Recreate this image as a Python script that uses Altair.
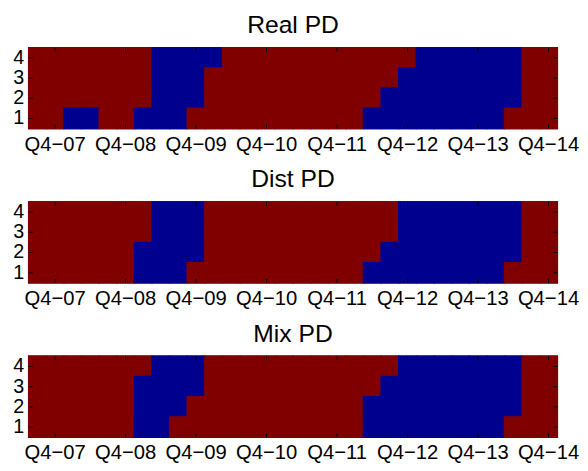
import altair as alt
import pandas as pd

quarters = ["Q3−07", "Q4−07", "Q1−08", "Q2−08", "Q3−08", "Q4−08", "Q1−09", "Q2−09",
            "Q3−09", "Q4−09", "Q1−10", "Q2−10", "Q3−10", "Q4−10", "Q1−11", "Q2−11",
            "Q3−11", "Q4−11", "Q1−12", "Q2−12", "Q3−12", "Q4−12", "Q1−13", "Q2−13",
            "Q3−13", "Q4−13", "Q1−14", "Q2−14", "Q3−14", "Q4−14"]
tick_quarters = ["Q4−07", "Q4−08", "Q4−09", "Q4−10", "Q4−11", "Q4−12", "Q4−13", "Q4−14"]
rows = [4, 3, 2, 1]
panels = ["Real PD", "Dist PD", "Mix PD"]

# 1 = red (high), 0 = blue (low); one list per row, Q3-07 .. Q4-14
real_row4 = [1,1,1,1,1,1,1,0,0,0,0,1,1,1,1,1,1,1,1,1,1,1,0,0,0,0,0,0,1,1]
real_row3 = [1,1,1,1,1,1,1,0,0,0,1,1,1,1,1,1,1,1,1,1,1,0,0,0,0,0,0,0,1,1]
real_row2 = [1,1,1,1,1,1,1,0,0,0,1,1,1,1,1,1,1,1,1,1,0,0,0,0,0,0,0,0,1,1]
real_row1 = [1,1,0,0,1,1,0,0,0,1,1,1,1,1,1,1,1,1,1,0,0,0,0,0,0,0,0,1,1,1]

dist_row4 = [1,1,1,1,1,1,1,0,0,0,1,1,1,1,1,1,1,1,1,1,1,0,0,0,0,0,0,0,1,1]
dist_row3 = [1,1,1,1,1,1,1,0,0,0,1,1,1,1,1,1,1,1,1,1,1,0,0,0,0,0,0,0,1,1]
dist_row2 = [1,1,1,1,1,1,0,0,0,0,1,1,1,1,1,1,1,1,1,1,0,0,0,0,0,0,0,0,1,1]
dist_row1 = [1,1,1,1,1,1,0,0,0,1,1,1,1,1,1,1,1,1,1,0,0,0,0,0,0,0,0,1,1,1]

mix_row4 = [1,1,1,1,1,1,1,0,0,0,1,1,1,1,1,1,1,1,1,1,1,0,0,0,0,0,0,0,1,1]
mix_row3 = [1,1,1,1,1,1,0,0,0,0,1,1,1,1,1,1,1,1,1,1,0,0,0,0,0,0,0,0,1,1]
mix_row2 = [1,1,1,1,1,1,0,0,0,1,1,1,1,1,1,1,1,1,1,0,0,0,0,0,0,0,0,0,1,1]
mix_row1 = [1,1,1,1,1,1,0,0,1,1,1,1,1,1,1,1,1,1,1,0,0,0,0,0,0,0,0,1,1,1]

grid = {
    "Real PD": [real_row4, real_row3, real_row2, real_row1],
    "Dist PD": [dist_row4, dist_row3, dist_row2, dist_row1],
    "Mix PD": [mix_row4, mix_row3, mix_row2, mix_row1],
}

RED = "#800000"
BLUE = "#00008F"
FONT = "Liberation Sans"
W, H = 536, 82
TICK = 4

records = []
for p in panels:
    for r, vals in zip(rows, grid[p]):
        for q, v in zip(quarters, vals):
            records.append({"panel": p, "row": r, "quarter": q, "value": v})
df = pd.DataFrame(records)
xt = pd.DataFrame({"quarter": tick_quarters})
yt = pd.DataFrame({"row": rows})

xscale = alt.Scale(domain=quarters, paddingInner=0, paddingOuter=0)
yscale = alt.Scale(domain=rows, paddingInner=0, paddingOuter=0)
cscale = alt.Scale(domain=[0, 1], range=[BLUE, RED])
xaxis = alt.Axis(values=tick_quarters, labelAngle=0, title=None, tickSize=0, grid=False,
                 labelPadding=6, labelFontSize=20.5, labelFont=FONT,
                 labelColor="black", domain=False)
yaxis = alt.Axis(title=None, tickSize=0, labelPadding=5, labelFontSize=20, grid=False,
                 labelFont=FONT, labelColor="black", domain=False)


def panel(name):
    rect = alt.Chart(df[df.panel == name]).mark_rect(strokeWidth=1.5, opacity=1).encode(
        x=alt.X("quarter:O", scale=xscale, axis=xaxis),
        y=alt.Y("row:O", scale=yscale, axis=yaxis),
        color=alt.Color("value:N", scale=cscale, legend=None),
        stroke=alt.Stroke("value:N", scale=cscale, legend=None),
    )
    top_t = alt.Chart(xt).mark_rule(color="black").encode(
        x=alt.X("quarter:O", scale=xscale, axis=xaxis), y=alt.value(0), y2=alt.value(TICK))
    bot_t = alt.Chart(xt).mark_rule(color="black").encode(
        x=alt.X("quarter:O", scale=xscale, axis=xaxis), y=alt.value(H), y2=alt.value(H - TICK))
    left_t = alt.Chart(yt).mark_rule(color="black").encode(
        y=alt.Y("row:O", scale=yscale, axis=yaxis), x=alt.value(0), x2=alt.value(TICK))
    right_t = alt.Chart(yt).mark_rule(color="black").encode(
        y=alt.Y("row:O", scale=yscale, axis=yaxis), x=alt.value(W), x2=alt.value(W - TICK))
    return alt.layer(rect, top_t, bot_t, left_t, right_t).properties(
        width=W, height=H,
        title=alt.TitleParams(name, fontSize=25, fontWeight="normal", font=FONT,
                              color="black", offset=9),
    )


chart = alt.vconcat(*[panel(p) for p in panels], spacing=10.5).properties(
    padding={"left": 4, "top": 1, "right": 0, "bottom": 0}
).configure_view(stroke="black", strokeWidth=1.5).configure_axis(grid=False)

chart.save("out.html", embed_options={"renderer": "svg", "actions": False})
